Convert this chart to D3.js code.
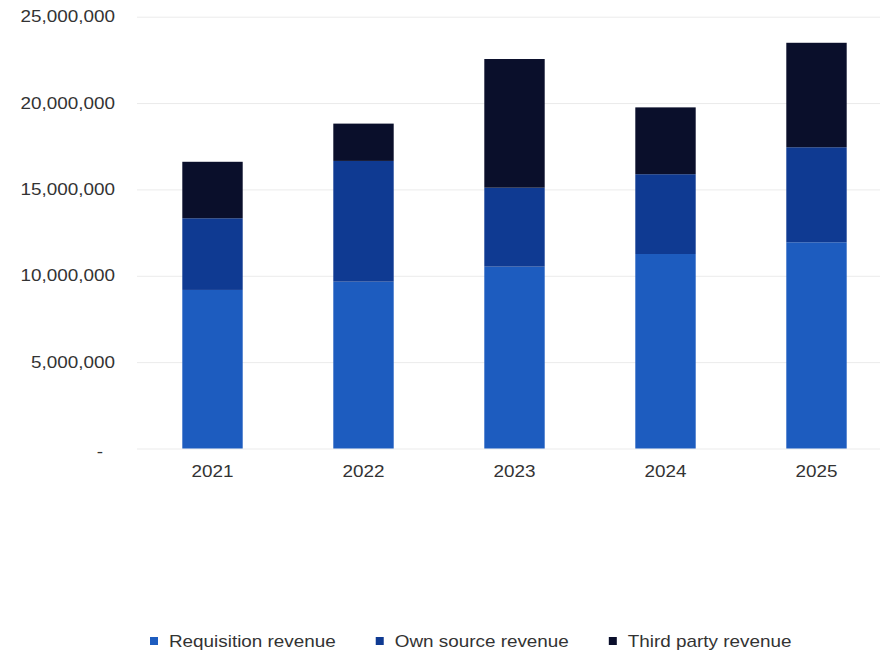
<!DOCTYPE html>
<html>
<head>
<meta charset="utf-8">
<script src="https://cdn.jsdelivr.net/npm/d3@7"></script>
<style>
  html, body { margin: 0; padding: 0; background: #fff; }
  svg { display: block; }
  text { font-family: "Liberation Sans", Arial, sans-serif; fill: #333; }
</style>
</head>
<body>
<svg id="chart" width="880" height="653"></svg>
<script>
// Revenue by year, split into three stacked sources
const years = ["2021", "2022", "2023", "2024", "2025"];
const requisition = [9180000, 9660000, 10530000, 11260000, 11940000];
const ownSource   = [4150000, 6990000, 4570000, 4620000, 5500000];
const thirdParty  = [3270000, 2160000, 7450000, 3870000, 6050000];
const seriesNames = ["Requisition revenue", "Own source revenue", "Third party revenue"];
const seriesColors = ["#1d5cbf", "#0f3a92", "#0a0f2b"];
const yTicks = [0, 5000000, 10000000, 15000000, 20000000, 25000000];

const rows = years.map((yr, i) => ({
  year: yr,
  "Requisition revenue": requisition[i],
  "Own source revenue": ownSource[i],
  "Third party revenue": thirdParty[i]
}));

const svg = d3.select("#chart");
const stretch = 1.18;            // wide lettering used throughout
const plotLeft = 137, plotRight = 892, plotTop = 16.7, plotBottom = 448.5;

const x = d3.scaleBand().domain(years).range([plotLeft, plotRight]).paddingInner(0.6).paddingOuter(0.3);
const y = d3.scaleLinear().domain([0, 25000000]).range([plotBottom, plotTop]);

// horizontal gridlines + y labels
const yAxis = svg.append("g")
  .attr("transform", `translate(${plotLeft},0)`)
  .call(d3.axisLeft(y).tickValues(yTicks).tickSize(-(880 - plotLeft))
    .tickFormat(d => d === 0 ? "-" : d3.format(",")(d)));
yAxis.select(".domain").remove();
yAxis.selectAll(".tick line").attr("stroke", "#ebebeb").attr("stroke-width", 1);
yAxis.selectAll(".tick text")
  .attr("x", d => d === 0 ? -34 / stretch : -22 / stretch)
  .attr("dy", d => d === 0 ? "0.5em" : "0.32em")
  .attr("transform", `scale(${stretch},1)`)
  .style("font-size", "16px")
  .style("fill", "#333")
  .style("font-family", "'Liberation Sans', Arial, sans-serif");

// stacked bars
const stack = d3.stack().keys(seriesNames)(rows);
const color = d3.scaleOrdinal().domain(seriesNames).range(seriesColors);

svg.append("g").selectAll("g")
  .data(stack)
  .join("g")
  .attr("fill", d => color(d.key))
  .selectAll("rect")
  .data(d => d)
  .join("rect")
  .attr("x", d => x(d.data.year))
  .attr("width", x.bandwidth())
  .attr("y", d => y(d[1]))
  .attr("height", d => y(d[0]) - y(d[1]));

// x labels
const xAxis = svg.append("g")
  .attr("transform", `translate(0,${plotBottom})`)
  .call(d3.axisBottom(x).tickSize(0).tickPadding(0));
xAxis.select(".domain").remove();
xAxis.selectAll(".tick text")
  .attr("y", 0)
  .attr("dy", 29)
  .attr("transform", `scale(${stretch},1)`)
  .style("font-size", "16px")
  .style("fill", "#333")
  .style("font-family", "'Liberation Sans', Arial, sans-serif");

// legend
const legend = svg.append("g").attr("transform", "translate(150,0)");
let lx = 0;
seriesNames.forEach((name, i) => {
  const g = legend.append("g").attr("transform", `translate(${lx},0)`);
  g.append("rect").attr("x", 0).attr("y", 637).attr("width", 8).attr("height", 8)
    .attr("fill", seriesColors[i]);
  const t = g.append("text")
    .attr("transform", `translate(19,647) scale(${stretch},1)`)
    .style("font-size", "16px")
    .text(name);
  const w = t.node().getComputedTextLength() * stretch;
  lx += 19 + w + 40;
});
</script>
</body>
</html>
